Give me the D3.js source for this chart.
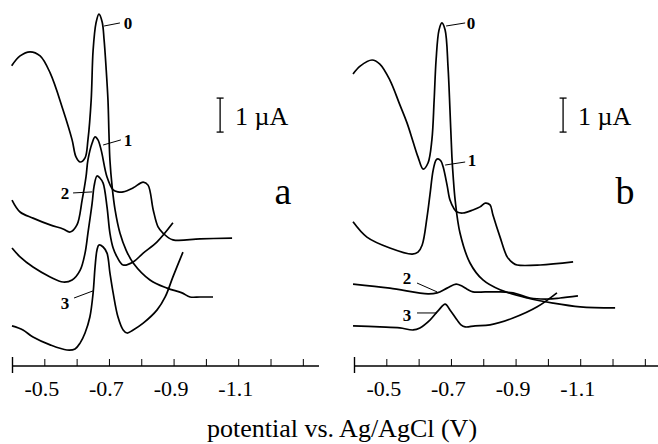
<!DOCTYPE html>
<html>
<head>
<meta charset="utf-8">
<script src="https://cdn.jsdelivr.net/npm/d3@7"></script>
<style>
	body { margin: 0; background: #fff; }
	svg { display: block; }
	text { font-family: "Liberation Serif", "Times New Roman", serif; fill: #000; }
	.trace { fill: none; stroke: #000; stroke-width: 1.7px; stroke-linejoin: round; }
	.pointer { stroke: #000; stroke-width: 1px; }
	.trace-label { font-weight: bold; font-size: 17px; }
	.x-axis .domain { stroke: #000; stroke-width: 1.4px; }
	.x-axis .tick line { stroke: #000; stroke-width: 1px; }
	.x-axis .tick text { font-size: 22px; }
	.bar { stroke: #000; stroke-width: 1.3px; }
</style>
</head>
<body>
<div id="chart"></div>
<script>

// potential axis (V vs Ag/AgCl)
const potentialTicks = [-0.4, -0.5, -0.6, -0.7, -0.8, -0.9, -1.0, -1.1, -1.2, -1.3];
const labelledTicks = [-0.5, -0.7, -0.9, -1.1];

// panel a traces: [potential V, current uA (with display offset)]
const traceA0 = [[-0.399, 8.83], [-0.425, 9.12], [-0.456, 9.24], [-0.487, 9.12], [-0.518, 8.62], [-0.558, 7.53], [-0.586, 6.65], [-0.598, 6.15], [-0.611, 6.0], [-0.626, 6.12], [-0.635, 6.65], [-0.645, 7.82], [-0.651, 9.29], [-0.660, 10.09], [-0.669, 10.35], [-0.679, 10.12], [-0.685, 9.59], [-0.691, 8.79], [-0.697, 7.82], [-0.700, 6.85], [-0.703, 6.06], [-0.710, 5.26], [-0.719, 4.59], [-0.734, 3.91], [-0.753, 3.41], [-0.775, 3.03], [-0.827, 2.53], [-0.880, 2.29], [-0.926, 2.15], [-0.951, 2.03], [-0.982, 2.03], [-1.022, 2.03]];
const traceA1 = [[-0.400, 4.88], [-0.425, 4.53], [-0.465, 4.35], [-0.518, 4.15], [-0.558, 4.03], [-0.580, 3.94], [-0.601, 4.15], [-0.617, 4.88], [-0.629, 5.56], [-0.635, 6.06], [-0.648, 6.56], [-0.657, 6.74], [-0.666, 6.65], [-0.676, 6.35], [-0.694, 5.56], [-0.713, 5.18], [-0.728, 5.12], [-0.744, 5.12], [-0.775, 5.24], [-0.806, 5.41], [-0.821, 5.32], [-0.837, 4.59], [-0.852, 4.09], [-0.867, 3.91], [-0.898, 3.71], [-0.982, 3.74], [-1.081, 3.76]];
const traceA2 = [[-0.400, 3.47], [-0.425, 3.21], [-0.465, 2.91], [-0.518, 2.62], [-0.558, 2.47], [-0.586, 2.53], [-0.611, 2.82], [-0.626, 3.32], [-0.635, 3.91], [-0.648, 4.79], [-0.654, 5.29], [-0.663, 5.59], [-0.672, 5.53], [-0.682, 5.38], [-0.694, 4.68], [-0.703, 3.91], [-0.713, 3.47], [-0.725, 3.21], [-0.744, 2.97], [-0.775, 3.06], [-0.806, 3.32], [-0.849, 3.65], [-0.898, 4.21]];
const traceA3 = [[-0.400, 1.18], [-0.434, 1.06], [-0.465, 0.85], [-0.518, 0.62], [-0.570, 0.47], [-0.595, 0.50], [-0.611, 0.68], [-0.626, 0.97], [-0.641, 1.44], [-0.651, 2.15], [-0.657, 2.91], [-0.663, 3.41], [-0.669, 3.56], [-0.682, 3.50], [-0.694, 3.32], [-0.703, 2.74], [-0.713, 2.15], [-0.728, 1.44], [-0.744, 1.06], [-0.756, 0.97], [-0.775, 1.06], [-0.806, 1.26], [-0.849, 1.65], [-0.874, 2.03], [-0.898, 2.62], [-0.929, 3.35]];

// panel b traces
const traceB0 = [[-0.397, 8.59], [-0.419, 8.82], [-0.456, 9.0], [-0.480, 8.88], [-0.511, 8.41], [-0.542, 7.68], [-0.564, 7.15], [-0.583, 6.59], [-0.598, 6.15], [-0.614, 5.79], [-0.629, 5.97], [-0.641, 6.65], [-0.648, 7.82], [-0.654, 9.0], [-0.663, 9.88], [-0.672, 10.09], [-0.682, 9.88], [-0.691, 8.79], [-0.697, 7.53], [-0.703, 6.15], [-0.707, 5.56], [-0.713, 4.88], [-0.728, 3.91], [-0.759, 3.03], [-0.799, 2.53], [-0.852, 2.24], [-0.936, 2.0], [-1.016, 1.85], [-1.100, 1.74], [-1.208, 1.71]];
const traceB1 = [[-0.397, 4.24], [-0.440, 3.79], [-0.511, 3.47], [-0.580, 3.29], [-0.598, 3.35], [-0.611, 3.56], [-0.626, 4.38], [-0.635, 5.03], [-0.645, 5.76], [-0.654, 6.06], [-0.660, 6.09], [-0.669, 6.03], [-0.676, 5.85], [-0.688, 5.32], [-0.697, 4.88], [-0.710, 4.62], [-0.719, 4.53], [-0.737, 4.5], [-0.768, 4.59], [-0.790, 4.68], [-0.806, 4.79], [-0.821, 4.74], [-0.830, 4.44], [-0.852, 3.79], [-0.874, 3.21], [-0.892, 3.03], [-0.905, 2.97], [-0.976, 2.97], [-1.078, 3.06]];
const traceB2 = [[-0.397, 2.41], [-0.511, 2.29], [-0.629, 2.12], [-0.657, 2.15], [-0.688, 2.29], [-0.716, 2.41], [-0.734, 2.35], [-0.750, 2.26], [-0.768, 2.18], [-0.806, 2.18], [-0.843, 2.18], [-0.892, 2.15], [-0.945, 2.0], [-0.998, 1.97], [-1.038, 2.0], [-1.093, 2.06]];
const traceB3 = [[-0.397, 1.18], [-0.480, 1.15], [-0.542, 1.12], [-0.583, 1.06], [-0.604, 1.12], [-0.635, 1.35], [-0.660, 1.62], [-0.682, 1.82], [-0.697, 1.65], [-0.719, 1.35], [-0.731, 1.21], [-0.744, 1.15], [-0.775, 1.18], [-0.821, 1.21], [-0.892, 1.41], [-0.967, 1.74], [-1.028, 2.15]];

// trace labels: text spot and pointer line (V, uA)
const labelsA = [
	{ name: "0", text: [-0.759, 10.09], from: [-0.734, 10.09], to: [-0.685, 10.0] },
	{ name: "1", text: [-0.759, 6.65], from: [-0.737, 6.65], to: [-0.682, 6.5] },
	{ name: "2", text: [-0.564, 5.09], from: [-0.589, 5.09], to: [-0.648, 5.12] },
	{ name: "3", text: [-0.564, 1.85], from: [-0.592, 2.0], to: [-0.651, 2.21] }
];
const labelsB = [
	{ name: "0", text: [-0.762, 10.09], from: [-0.744, 10.09], to: [-0.685, 10.0] },
	{ name: "1", text: [-0.765, 6.06], from: [-0.744, 6.0], to: [-0.682, 5.91] },
	{ name: "2", text: [-0.564, 2.59], from: [-0.595, 2.44], to: [-0.657, 2.18] },
	{ name: "3", text: [-0.564, 1.5], from: [-0.595, 1.56], to: [-0.657, 1.56] }
];

// 1 uA scale bar (top, bottom in uA)
const scaleBar = [7.88, 6.88];


class PanelVis {

	constructor(svg, config) {
		this.svg = svg;
		this.config = config;

		this.initVis();
	}

	initVis () {
		let vis = this;
		let cfg = vis.config;

		vis.x = d3.scaleLinear()
			.domain([-0.4, -1.35])
			.range([cfg.left, cfg.left + 307]);

		vis.y = d3.scaleLinear()
			.domain([0, 10])
			.range([366, 26]);

		vis.g = vis.svg.append("g").attr("class", "panel-" + cfg.letter);

		// axis, ticks point up, labels below
		vis.xAxis = d3.axisBottom(vis.x)
			.tickValues(potentialTicks)
			.tickSizeInner(-7)
			.tickSizeOuter(0)
			.tickPadding(14)
			.tickFormat(d => labelledTicks.some(t => Math.abs(t - d) < 1e-6) ? d.toFixed(1) : "");

		let axisG = vis.g.append("g")
			.attr("class", "x-axis")
			.attr("transform", `translate(0,${vis.y(0)})`)
			.call(vis.xAxis);

		axisG.select(".domain").attr("d", `M${vis.x(-0.4)},0H${vis.x(-1.35)}`);
		axisG.selectAll(".tick text").attr("dx", -3);
		axisG.selectAll(".tick").filter(d => d === -0.4)
			.select("line")
			.attr("y1", 7)
			.attr("y2", -9)
			.style("stroke-width", "1.4px");

		// traces
		vis.line = d3.line()
			.x(d => vis.x(d[0]))
			.y(d => vis.y(d[1]))
			.curve(d3.curveCatmullRom.alpha(0.5));

		vis.g.selectAll(".trace")
			.data(cfg.traces)
			.enter()
			.append("path")
			.attr("class", "trace")
			.attr("d", vis.line);

		// labels with pointers
		let labels = vis.g.selectAll(".trace-label-g")
			.data(cfg.labels)
			.enter()
			.append("g")
			.attr("class", "trace-label-g");

		labels.append("line")
			.attr("class", "pointer")
			.attr("x1", d => vis.x(d.from[0]))
			.attr("y1", d => vis.y(d.from[1]))
			.attr("x2", d => vis.x(d.to[0]))
			.attr("y2", d => vis.y(d.to[1]));

		labels.append("text")
			.attr("class", "trace-label")
			.attr("x", d => vis.x(d.text[0]))
			.attr("y", d => vis.y(d.text[1]))
			.attr("dy", "0.35em")
			.attr("text-anchor", "middle")
			.text(d => d.name);

		// scale bar
		let bx = vis.x(cfg.barAt);
		let barG = vis.g.append("g");
		barG.append("line").attr("class", "bar")
			.attr("x1", bx).attr("x2", bx)
			.attr("y1", vis.y(scaleBar[0])).attr("y2", vis.y(scaleBar[1]));
		scaleBar.forEach(v => {
			barG.append("line").attr("class", "bar")
				.attr("x1", bx - 3.5).attr("x2", bx + 3.5)
				.attr("y1", vis.y(v)).attr("y2", vis.y(v));
		});
		barG.append("text")
			.attr("x", bx + 15)
			.attr("y", 125)
			.style("font-size", "26px")
			.text("1 \u00b5A");

		// panel letter
		vis.g.append("text")
			.attr("x", cfg.left + 271)
			.attr("y", 204)
			.attr("text-anchor", "middle")
			.style("font-size", "38px")
			.text(cfg.letter);
	}
}


let svg = d3.select("#chart").append("svg")
	.attr("width", 658)
	.attr("height", 444);

new PanelVis(svg, {
	letter: "a",
	left: 12,
	traces: [traceA0, traceA1, traceA2, traceA3],
	labels: labelsA,
	barAt: -1.044
});

new PanelVis(svg, {
	letter: "b",
	left: 354,
	traces: [traceB0, traceB1, traceB2, traceB3],
	labels: labelsB,
	barAt: -1.047
});

svg.append("text")
	.attr("x", 342)
	.attr("y", 437)
	.attr("text-anchor", "middle")
	.style("font-size", "26px")
	.text("potential vs. Ag/AgCl (V)");

</script>
</body>
</html>
